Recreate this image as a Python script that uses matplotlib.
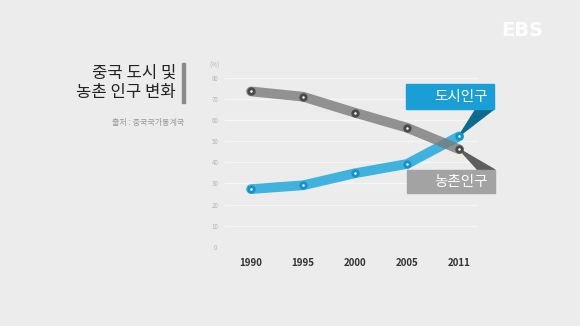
import matplotlib.pyplot as plt
from matplotlib.patches import Polygon, Rectangle

plt.rcParams['font.family'] = ['Noto Sans CJK KR', 'DejaVu Sans']

years = ['1990', '1995', '2000', '2005', '2011']
urban = [27.3, 29.1, 34.8, 39.2, 52.3]   # 도시인구 (%)
rural = [73.6, 71.1, 63.5, 56.4, 46.2]   # 농촌인구 (%)
yticks = [0, 10, 20, 30, 40, 50, 60, 70, 80]

W, H = 580, 326
bg = '#ececec'
fig = plt.figure(figsize=(W / 100, H / 100), dpi=100, facecolor=bg)

def px(x, y):
    # pixel position (from top-left) -> figure fraction
    return x / W, 1 - y / H

# axes placed so that index 0..4 and 0..80% land where the reference has them
ax = fig.add_axes([225 / W, (H - 246.7) / H, 253 / W, 168.8 / H], facecolor=bg)
ax.set_xlim(-0.5, 4.365)
ax.set_ylim(0, 80)
for s in ax.spines.values():
    s.set_visible(False)

for v in yticks[1:]:
    ax.axhline(v, color='#f6f6f6', lw=0.9, zorder=0)

x = range(len(years))
ax.plot(x, urban, color='#3fb3de', lw=7, solid_capstyle='round', zorder=2)
ax.plot(x, rural, color='#7a7a7a', lw=7, alpha=0.8, solid_capstyle='round', zorder=3)
ax.plot(x, urban, 'o', ms=6, mfc='#1592c8', mec='#1592c8', mew=0, zorder=5)
ax.plot(x, rural, 'o', ms=6, mfc='#4a4a4a', mec='#4a4a4a', mew=0, zorder=5)
ax.plot(x, urban, 'o', ms=1.8, color='white', mew=0, zorder=6)
ax.plot(x, rural, 'o', ms=1.8, color='white', mew=0, zorder=6)

ax.set_xticks(list(x))
ax.set_xticklabels(years, fontsize=7, color='#333333', fontweight='bold')
ax.set_yticks(yticks)
ax.set_yticklabels([str(v) for v in yticks], fontsize=4.5, color='#b5b5b5', ha='center')
ax.tick_params(axis='x', length=0, pad=8)
ax.tick_params(axis='y', length=0, pad=7)

fig.text(*px(214, 66), '(%)', fontsize=4.5, color='#b5b5b5', ha='center', va='center')

# label boxes with pointers (pixel geometry)
tr = ax.transData.inverted()
def d(xp, yp):
    return tr.transform(fig.transFigure.transform(px(xp, yp)))

blue_box = [d(406, 84), d(494, 84), d(494, 109), d(406, 109)]
ax.add_patch(Polygon(blue_box, closed=True, color='#1a9ed6', zorder=7, clip_on=False))
ax.add_patch(Polygon([d(459, 136), d(476, 109), d(494, 109)], closed=True,
                     color='#0d6c8c', zorder=4, clip_on=False))
grey_box = [d(407, 170), d(495, 170), d(495, 193), d(407, 193)]
ax.add_patch(Polygon(grey_box, closed=True, color='#a3a3a3', zorder=7, clip_on=False))
ax.add_patch(Polygon([d(459, 149), d(478, 170), d(495, 170)], closed=True,
                     color='#5e5e5e', zorder=4, clip_on=False))

fig.text(*px(488, 97), '도시인구', fontsize=10.5, color='white', ha='right', va='center', zorder=10)
fig.text(*px(488, 182), '농촌인구', fontsize=10.5, color='white', ha='right', va='center', zorder=10)

# title block
fig.text(*px(176, 73), '중국 도시 및', fontsize=12, color='#222222', ha='right', va='center')
fig.text(*px(176, 93), '농촌 인구 변화', fontsize=12, color='#222222', ha='right', va='center')
fig.patches.append(Rectangle(px(182, 103), 3 / W, 40 / H, transform=fig.transFigure,
                             color='#8a8a8a', figure=fig))
fig.text(*px(184, 123), '출처 : 중국국가통계국', fontsize=5.8, color='#9a9a9a', ha='right', va='center')

fig.text(*px(522, 30), 'EBS', fontsize=14, color='white', fontweight='bold',
         family='DejaVu Sans', ha='center', va='center', alpha=0.95)

fig.savefig('out.png', dpi=100, facecolor=bg)
